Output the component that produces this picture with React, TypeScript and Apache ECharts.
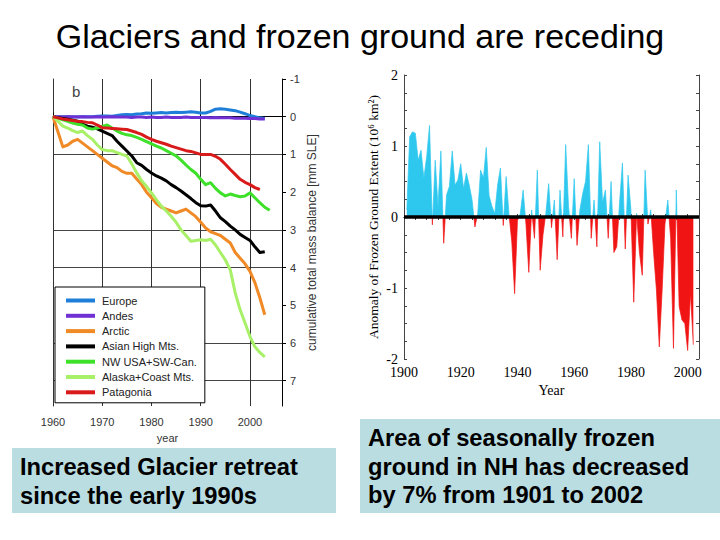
import { useEffect, useRef } from "react";
import * as echarts from "echarts";

// ---- Glacier mass balance (cumulative, mm SLE), yearly from 1960 ----
const glacierStartYear = 1960;
const europe = [
  0, 0, 0, 0, 0.01, 0, 0, 0, 0, -0.01, -0.02, -0.02, -0.01, -0.03, -0.05, -0.06,
  -0.05, -0.07, -0.08, -0.1, -0.09, -0.1, -0.11, -0.1, -0.11, -0.12, -0.11, -0.12,
  -0.13, -0.12, -0.1, -0.1, -0.14, -0.2, -0.21, -0.2, -0.18, -0.16, -0.12, -0.08,
  -0.03, 0, 0.03, 0.05,
];
const andes = [
  0, 0, 0.01, 0, 0, 0.01, 0, 0.01, 0.01, 0, 0.01, 0.01, 0, 0.01, 0.01, 0.01,
  0.02, 0.01, 0.01, 0.02, 0.01, 0.02, 0.02, 0.01, 0.02, 0.02, 0.02, 0.01, 0.02, 0.02,
  0.02, 0.02, 0.03, 0.02, 0.03, 0.03, 0.03, 0.04, 0.04, 0.04, 0.05, 0.05, 0.06, 0.06,
];
const arctic = [
  0, 0.4, 0.8, 0.75, 0.65, 0.6, 0.7, 0.8, 0.9, 1.0, 1.1, 1.2, 1.3, 1.35, 1.45, 1.5,
  1.5, 1.65, 1.8, 2.0, 2.15, 2.3, 2.4, 2.45, 2.5, 2.55, 2.5, 2.45, 2.55, 2.65, 2.8,
  2.95, 3.05, 3.1, 3.15, 3.25, 3.35, 3.6, 3.75, 3.9, 4.1, 4.4, 4.8, 5.25,
];
const asianHighMts = [
  0, 0.03, 0.05, 0.07, 0.09, 0.12, 0.2, 0.25, 0.28, 0.32, 0.38, 0.44, 0.5, 0.65,
  0.78, 0.91, 1.04, 1.22, 1.29, 1.4, 1.49, 1.57, 1.63, 1.7, 1.8, 1.88, 1.97, 2.07,
  2.17, 2.28, 2.36, 2.37, 2.34, 2.5, 2.68, 2.78, 2.9, 3.0, 3.12, 3.2, 3.28, 3.45,
  3.6, 3.58,
];
const nwUsaSwCan = [
  0, 0.04, 0.08, 0.12, 0.17, 0.2, 0.22, 0.3, 0.33, 0.3, 0.26, 0.22, 0.3, 0.38, 0.44,
  0.48, 0.5, 0.55, 0.6, 0.66, 0.72, 0.78, 0.83, 0.9, 0.97, 1.04, 1.15, 1.28, 1.4,
  1.5, 1.66, 1.8, 1.75, 1.9, 2.02, 2.1, 2.05, 2.09, 2.12, 2.1, 2.02, 2.15, 2.28, 2.4,
  2.48,
];
const alaskaCoastMts = [
  0, 0.12, 0.25, 0.3, 0.37, 0.42, 0.38, 0.5, 0.6, 0.75, 0.87, 0.9, 0.9, 0.95, 1.0,
  1.04, 1.25, 1.49, 1.7, 1.85, 2.02, 2.2, 2.37, 2.5, 2.64, 2.8, 3.0, 3.15, 3.3, 3.28,
  3.26, 3.28, 3.25, 3.4, 3.6, 3.8, 4.06, 4.67, 5.12, 5.47, 5.83, 6.1, 6.25, 6.37,
];
const patagonia = [
  0, 0.03, 0.06, 0.08, 0.1, 0.12, 0.13, 0.15, 0.16, 0.22, 0.29, 0.3, 0.31, 0.32,
  0.33, 0.34, 0.38, 0.42, 0.47, 0.54, 0.6, 0.65, 0.69, 0.73, 0.78, 0.82, 0.86, 0.9,
  0.92, 0.96, 1.0, 1.0, 1.0, 1.05, 1.13, 1.26, 1.4, 1.53, 1.66, 1.74, 1.8, 1.88, 1.93,
];

const glacierNames = [
  "Europe",
  "Andes",
  "Arctic",
  "Asian High Mts.",
  "NW USA+SW-Can.",
  "Alaska+Coast Mts.",
  "Patagonia",
];
const glacierColors = [
  "#1f7fd8",
  "#7030d4",
  "#f08a26",
  "#000000",
  "#3ee02a",
  "#a8f068",
  "#d91a1a",
];
const glacierSeries = [
  europe,
  andes,
  arctic,
  asianHighMts,
  nwUsaSwCan,
  alaskaCoastMts,
  patagonia,
];

// ---- NH seasonally frozen ground extent anomaly (10^6 km^2), 1901-2002 ----
const frozenStartYear = 1901;
const frozenAnomaly = [
  0.1, 1.13, 1.2, 1.18, 0.8, 0.94, 0.55, 0.85, 1.29, -0.11,
  0.8, 0.15, 0.93, -0.37, 0.31, 0.43, 0.93, 0.45, 0.52, 0.75,
  0.4, 0.62, 0.45, 0.24, -0.14, 0.05, 0.66, 0.55, 0.98, 0.3,
  0.15, 0.05, 0.45, 0.69, -0.12, 0.57, 0.05, -0.35, -1.08, -0.05,
  0.05, 0.38, -0.1, -0.78, 0.1, -0.3, 0.66, -0.75, -0.25, 0.05,
  0.47, -0.15, 0.24, -0.6, 0.38, -0.28, 1.02, 0.15, -0.3, 0.54,
  -0.4, 0.1, 0.33, 0.5, 1.02, -0.3, 0.24, -0.42, 1.06, 0.2,
  0.38, -0.3, 0.5, -0.5, -0.42, 0.2, 0.76, -0.45, 0.59, 0.1,
  -1.2, 0.05, -0.5, -0.82, 0.66, -0.1, 0.1, -0.5, -1.03, -1.83,
  -1.03, -0.1, 0.24, -0.3, -1.85, 0.38, -1.26, -1.45, -1.5, -1.88,
  -1.07, -1.8,
];

const glacierTickYears = [1960, 1970, 1980, 1990, 2000];
const frozenLabelYears = [1900, 1920, 1940, 1960, 1980, 2000];

const withYears = (start: number, values: number[]) =>
  values.map((v, i) => [start + i, v]);

export default function App() {
  const ref = useRef<HTMLDivElement>(null);

  useEffect(() => {
    if (!ref.current) return;
    const chart = echarts.init(ref.current, undefined, { renderer: "svg" });

    const sans = "Arial";
    const serif = "Times New Roman";

    const lines = glacierSeries.map((vals, i) => ({
      name: glacierNames[i],
      type: "line",
      xAxisIndex: 0,
      yAxisIndex: 0,
      data: withYears(glacierStartYear, vals),
      showSymbol: false,
      symbol: "none",
      z: 3,
      lineStyle: { color: glacierColors[i], width: 3, join: "round" },
      itemStyle: { color: glacierColors[i] },
    }));

    chart.setOption({
      animation: false,
      backgroundColor: "#ffffff",
      title: {
        text: "Glaciers and frozen ground are receding",
        left: "center",
        top: 14,
        textStyle: {
          fontFamily: sans,
          fontSize: 34,
          fontWeight: "normal",
          color: "#000",
        },
      },
      legend: {
        data: glacierNames,
        orient: "vertical",
        left: 55,
        top: 287,
        icon: "rect",
        itemWidth: 29,
        itemHeight: 4,
        itemGap: 2.3,
        padding: [7, 8, 4, 11],
        backgroundColor: "#fff",
        borderColor: "#000",
        borderWidth: 1,
        borderRadius: 0,
        selectedMode: false,
        textStyle: {
          fontFamily: sans,
          fontSize: 11,
          color: "#222",
          lineHeight: 13,
          padding: [0, 0, 0, 2],
        },
      },
      grid: [
        { left: 53, top: 79, width: 229, height: 327 },
        { left: 404, top: 75, width: 295, height: 284 },
      ],
      visualMap: {
        show: false,
        type: "piecewise",
        seriesIndex: 7,
        dimension: 1,
        pieces: [
          { gte: -3, lt: 0, color: "#f01414" },
          { gte: 0, lte: 3, color: "#2ec8ee" },
        ],
        outOfRange: { color: "#2ec8ee" },
      },
      xAxis: [
        {
          type: "value",
          gridIndex: 0,
          min: glacierTickYears[0],
          max: 2006.5,
          interval: 10,
          name: "year",
          nameLocation: "middle",
          nameGap: 26,
          nameTextStyle: { fontFamily: sans, fontSize: 11, color: "#333" },
          axisLine: { show: true, lineStyle: { color: "#000", width: 1 } },
          axisTick: { show: true, inside: true, length: 4, lineStyle: { color: "#000" } },
          axisLabel: {
            show: true,
            showMaxLabel: false,
            margin: 10,
            fontFamily: sans,
            fontSize: 11,
            color: "#333",
            formatter: (v: number) => (glacierTickYears.includes(v) ? String(v) : ""),
          },
          splitLine: { show: true, lineStyle: { color: "#333", width: 1 } },
        },
        {
          type: "value",
          gridIndex: 1,
          position: "bottom",
          min: 1900,
          max: 2004,
          interval: 4,
          name: "Year",
          nameLocation: "middle",
          nameGap: 22,
          nameTextStyle: { fontFamily: serif, fontSize: 14, color: "#000" },
          axisLine: { show: true, lineStyle: { color: "#444", width: 1 } },
          axisTick: { show: true, inside: true, length: 3, lineStyle: { color: "#444" } },
          axisLabel: {
            margin: 6,
            fontFamily: serif,
            fontSize: 14,
            color: "#000",
            formatter: (v: number) => (frozenLabelYears.includes(v) ? String(v) : ""),
          },
          splitLine: { show: false },
        },
        {
          type: "value",
          gridIndex: 1,
          position: "top",
          min: 1900,
          max: 2004,
          interval: 4,
          axisLine: { show: true, lineStyle: { color: "#444", width: 1 } },
          axisTick: { show: true, inside: true, length: 3, lineStyle: { color: "#444" } },
          axisLabel: { show: false },
          splitLine: { show: false },
        },
      ],
      yAxis: [
        {
          type: "value",
          gridIndex: 0,
          position: "right",
          inverse: true,
          min: -1,
          max: 7.67,
          interval: 1,
          name: "cumulative total mass balance [mm SLE]",
          nameLocation: "middle",
          nameRotate: 90,
          nameGap: 24,
          nameTextStyle: { fontFamily: sans, fontSize: 12, color: "#333" },
          axisLine: { show: true, lineStyle: { color: "#000", width: 1 } },
          axisTick: { show: true, inside: false, length: 4, lineStyle: { color: "#000" } },
          axisLabel: {
            showMaxLabel: false,
            margin: 8,
            fontFamily: sans,
            fontSize: 11,
            color: "#333",
          },
          splitLine: {
            show: true,
            lineStyle: { color: ["rgba(0,0,0,0)", "#444", "#444"], width: 1 },
          },
        },
        {
          type: "value",
          gridIndex: 1,
          position: "left",
          min: -2,
          max: 2,
          interval: 0.25,
          name: "Anomaly of Frozen Ground Extent (10\u2076 km\u00b2)",
          nameLocation: "middle",
          nameRotate: 90,
          nameGap: 24,
          nameTextStyle: { fontFamily: serif, fontSize: 13.5, color: "#000" },
          axisLine: { show: true, lineStyle: { color: "#444", width: 1 } },
          axisTick: { show: true, inside: true, length: 3, lineStyle: { color: "#444" } },
          axisLabel: {
            margin: 6,
            fontFamily: serif,
            fontSize: 14,
            color: "#000",
            formatter: (v: number) => (Number.isInteger(v) ? String(v) : ""),
          },
          splitLine: { show: false },
        },
        {
          type: "value",
          gridIndex: 1,
          position: "right",
          min: -2,
          max: 2,
          interval: 0.25,
          axisLine: { show: true, lineStyle: { color: "#444", width: 1 } },
          axisTick: { show: true, inside: true, length: 3, lineStyle: { color: "#444" } },
          axisLabel: { show: false },
          splitLine: { show: false },
        },
        {
          // left frame line of the glacier panel
          type: "value",
          gridIndex: 0,
          position: "left",
          inverse: true,
          min: -1,
          max: 7.67,
          axisLine: { show: true, lineStyle: { color: "#333", width: 1 } },
          axisTick: { show: false },
          axisLabel: { show: false },
          splitLine: { show: false },
        },
      ],
      series: [
        ...lines,
        {
          name: "Frozen ground anomaly",
          type: "line",
          xAxisIndex: 1,
          yAxisIndex: 1,
          data: withYears(frozenStartYear, frozenAnomaly),
          showSymbol: false,
          symbol: "none",
          lineStyle: { width: 0.7 },
          areaStyle: { opacity: 1 },
          markLine: {
            silent: true,
            symbol: ["none", "none"],
            label: { show: false },
            lineStyle: { color: "#000", width: 3.5, type: "solid" },
            data: [{ yAxis: 0 }],
          },
        },
      ],
      graphic: [
        {
          type: "text",
          left: 72,
          top: 84,
          style: { text: "b", fontFamily: sans, fontSize: 15, fill: "#444" },
        },
        {
          type: "rect",
          shape: { x: 12, y: 448, width: 324, height: 65 },
          style: { fill: "#badde2" },
        },
        {
          type: "text",
          x: 20,
          y: 452,
          style: {
            text: "Increased Glacier retreat\nsince the early 1990s",
            fontFamily: sans,
            fontWeight: "bold",
            fontSize: 23.7,
            lineHeight: 29,
            fill: "#000",
            verticalAlign: "top",
          },
        },
        {
          type: "rect",
          shape: { x: 360, y: 419, width: 360, height: 94 },
          style: { fill: "#badde2" },
        },
        {
          type: "text",
          x: 368,
          y: 424,
          style: {
            text: "Area of seasonally frozen\nground in NH has decreased\nby 7% from 1901 to 2002",
            fontFamily: sans,
            fontWeight: "bold",
            fontSize: 23.7,
            lineHeight: 28.5,
            fill: "#000",
            verticalAlign: "top",
          },
        },
      ],
    });

    return () => chart.dispose();
  }, []);

  return (
    <div
      ref={ref}
      style={{ position: "absolute", left: 0, top: 0, width: 720, height: 540 }}
    />
  );
}
